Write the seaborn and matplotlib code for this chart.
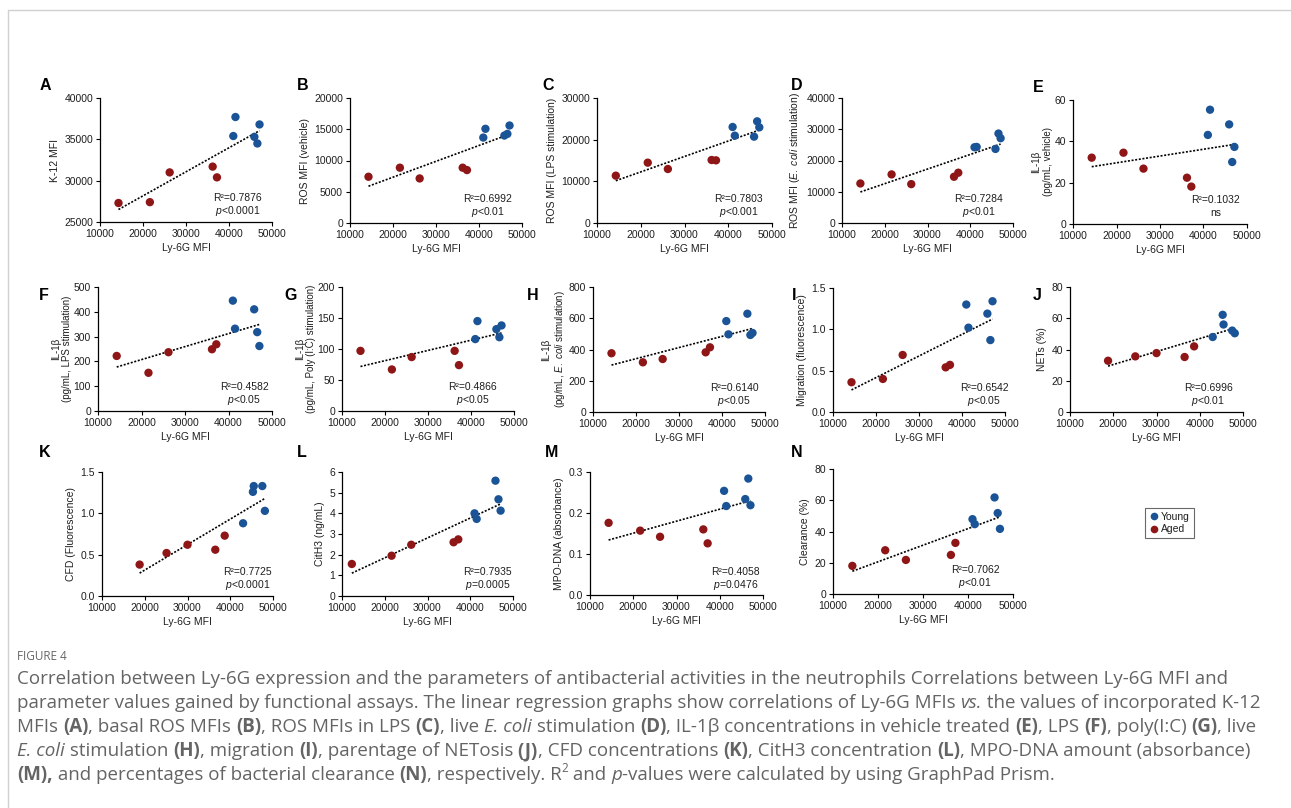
import numpy as np
import pandas as pd
import matplotlib
matplotlib.use("Agg")
import matplotlib.pyplot as plt
import seaborn as sns
from matplotlib.lines import Line2D
from matplotlib.font_manager import FontProperties
from matplotlib.ticker import FormatStrFormatter, FixedLocator

W, H = 1291, 808

# ---------------- data ----------------
ly6g_aged = [14300, 21600, 26200, 36200, 37200]
ly6g_young = [41000, 41500, 45900, 46600, 47100]
ly6g_aged_jk = [18800, 25100, 30000, 36500, 38700]
ly6g_young_jk = [43000, 45300, 45500, 47500, 48100]
ly6g_aged_l = [12300, 21600, 26200, 36100, 37200]

k12_aged = [27300, 27400, 31000, 31700, 30400]
k12_young = [35400, 37700, 35300, 34500, 36800]
ros_veh_aged = [7400, 8850, 7130, 8850, 8470]
ros_veh_young = [13670, 15070, 13990, 14260, 15600]
ros_lps_aged = [11360, 14480, 12960, 15120, 15040]
ros_lps_young = [23040, 20960, 20720, 24400, 22960]
ros_ecoli_aged = [12650, 15550, 12440, 14800, 16090]
ros_ecoli_young = [24240, 24340, 23700, 28630, 27130]
il1b_veh_aged = [32.1, 34.5, 26.8, 22.4, 18.1]
il1b_veh_young = [43.1, 55.3, 48.2, 30.0, 37.3]
il1b_lps_aged = [222, 154, 237, 249, 269]
il1b_lps_young = [445, 332, 410, 318, 262]
il1b_polyic_aged = [97, 67, 87, 97, 74]
il1b_polyic_young = [116, 145, 132, 119, 138]
il1b_ecoli_aged = [376, 318, 339, 382, 414]
il1b_ecoli_young = [582, 497, 629, 493, 506]
migration_aged = [0.36, 0.40, 0.69, 0.54, 0.57]
migration_young = [1.30, 1.02, 1.19, 0.87, 1.34]
nets_aged = [32.8, 35.6, 37.7, 35.2, 42.0]
nets_young = [48.0, 62.2, 56.0, 52.1, 50.4]
cfd_aged = [0.38, 0.52, 0.62, 0.56, 0.73]
cfd_young = [0.88, 1.26, 1.33, 1.33, 1.03]
cith3_aged = [1.55, 1.95, 2.48, 2.60, 2.74]
cith3_young = [4.00, 3.73, 5.58, 4.68, 4.13]
mpodna_aged = [0.176, 0.157, 0.142, 0.160, 0.126]
mpodna_young = [0.254, 0.217, 0.234, 0.284, 0.219]
clearance_aged = [18.0, 28.0, 21.8, 25.0, 32.7]
clearance_young = [47.9, 44.7, 61.8, 51.8, 41.7]

panel_letters = list("ABCDEFGHIJKLMN")
y_labels = [
    "K-12 MFI",
    "ROS MFI (vehicle)",
    "ROS MFI (LPS stimulation)",
    r"ROS MFI ($\mathit{E.\ coli}$ stimulation)",
    "IL-1β\n(pg/mL, vehicle)",
    "IL-1β\n(pg/mL, LPS stimulation)",
    "IL-1β\n(pg/mL, Poly (I:C) stimulation)",
    "IL-1β\n" + r"(pg/mL, $\mathit{E.\ coli}$ stimulation)",
    "Migration (fluorescence)",
    "NETs (%)",
    "CFD (Fluorescence)",
    "CitH3 (ng/mL)",
    "MPO-DNA (absorbance)",
    "Clearance (%)",
]
r2_labels = ["R²=0.7876", "R²=0.6992", "R²=0.7803", "R²=0.7284", "R²=0.1032",
             "R²=0.4582", "R²=0.4866", "R²=0.6140", "R²=0.6542", "R²=0.6996",
             "R²=0.7725", "R²=0.7935", "R²=0.4058", "R²=0.7062"]
p_labels = [r"$\mathit{p}$<0.0001", r"$\mathit{p}$<0.01", r"$\mathit{p}$<0.001", r"$\mathit{p}$<0.01", "ns",
            r"$\mathit{p}$<0.05", r"$\mathit{p}$<0.05", r"$\mathit{p}$<0.05", r"$\mathit{p}$<0.05", r"$\mathit{p}$<0.01",
            r"$\mathit{p}$<0.0001", r"$\mathit{p}$=0.0005", r"$\mathit{p}$=0.0476", r"$\mathit{p}$<0.01"]
y_ticks = [
    [25000, 30000, 35000, 40000],
    [0, 5000, 10000, 15000, 20000],
    [0, 10000, 20000, 30000],
    [0, 10000, 20000, 30000, 40000],
    [0, 20, 40, 60],
    [0, 100, 200, 300, 400, 500],
    [0, 50, 100, 150, 200],
    [0, 200, 400, 600, 800],
    [0.0, 0.5, 1.0, 1.5],
    [0, 20, 40, 60, 80],
    [0.0, 0.5, 1.0, 1.5],
    [0, 1, 2, 3, 4, 5, 6],
    [0.0, 0.1, 0.2, 0.3],
    [0, 20, 40, 60, 80],
]
x_ticks = [10000, 20000, 30000, 40000, 50000]
x_label = "Ly-6G MFI"
groups = ["Young", "Aged"]

series = [
    (ly6g_aged, ly6g_young, k12_aged, k12_young),
    (ly6g_aged, ly6g_young, ros_veh_aged, ros_veh_young),
    (ly6g_aged, ly6g_young, ros_lps_aged, ros_lps_young),
    (ly6g_aged, ly6g_young, ros_ecoli_aged, ros_ecoli_young),
    (ly6g_aged, ly6g_young, il1b_veh_aged, il1b_veh_young),
    (ly6g_aged, ly6g_young, il1b_lps_aged, il1b_lps_young),
    (ly6g_aged, ly6g_young, il1b_polyic_aged, il1b_polyic_young),
    (ly6g_aged, ly6g_young, il1b_ecoli_aged, il1b_ecoli_young),
    (ly6g_aged, ly6g_young, migration_aged, migration_young),
    (ly6g_aged_jk, ly6g_young_jk, nets_aged, nets_young),
    (ly6g_aged_jk, ly6g_young_jk, cfd_aged, cfd_young),
    (ly6g_aged_l, ly6g_young, cith3_aged, cith3_young),
    (ly6g_aged, ly6g_young, mpodna_aged, mpodna_young),
    (ly6g_aged, ly6g_young, clearance_aged, clearance_young),
]

# ---------------- layout / style ----------------
axes_px = [  # left, top, right, bottom (pixels)
    (100, 98, 272, 222), (350, 98, 522, 223), (597, 98, 772, 223), (842, 98, 1013, 223), (1073, 100, 1247, 224),
    (98, 287, 272, 411), (342, 287, 514, 411), (593, 287, 765, 412), (833, 288, 1005, 412), (1070, 287, 1243, 412),
    (102, 472, 273, 596), (342, 472, 513, 596), (590, 472, 763, 595), (833, 469, 1013, 594),
]
letter_px = [(45, 86), (303, 86), (548, 86), (797, 86), (1038, 87),
             (44, 296), (291, 296), (533, 296), (794, 296), (1037, 296),
             (45, 452), (302, 452), (552, 452), (797, 452)]
stat_xfrac = [0.80, 0.80, 0.81, 0.80, 0.82, 0.84, 0.76, 0.82, 0.88, 0.80, 0.85, 0.85, 0.84, 0.79]
yfmt = ['%d'] * 8 + ['%.1f', '%d', '%.1f', '%d', '%.1f', '%d']

palette = {"Young": "#1b5496", "Aged": "#8e1616"}
TXT = "#1e1e1e"

sns.set_theme(style="ticks")
plt.rcParams['font.family'] = ['Liberation Sans', 'DejaVu Sans']
plt.rcParams['mathtext.fontset'] = 'custom'
plt.rcParams['mathtext.rm'] = 'Liberation Sans'
plt.rcParams['mathtext.it'] = 'Liberation Sans:italic'
plt.rcParams['mathtext.bf'] = 'Liberation Sans:bold'

fig = plt.figure(figsize=(W / 100, H / 100), dpi=100, facecolor='white')

# page frame
fig.add_artist(Line2D([8 / W, 1.0], [1 - 10 / H, 1 - 10 / H], transform=fig.transFigure, color='#d0d0d0', lw=1.0))
fig.add_artist(Line2D([8 / W, 8 / W], [0, 1 - 10 / H], transform=fig.transFigure, color='#d0d0d0', lw=1.0))

for i in range(14):
    l, t, r, b = axes_px[i]
    ax = fig.add_axes([l / W, 1 - b / H, (r - l) / W, (b - t) / H])
    xa, xy, ya, yy = series[i]
    df = pd.DataFrame({"Ly6G": list(xa) + list(xy),
                       "value": list(ya) + list(yy),
                       "Group": ["Aged"] * len(xa) + ["Young"] * len(xy)})
    sns.regplot(data=df, x="Ly6G", y="value", scatter=False, ci=None, truncate=True, ax=ax,
                line_kws=dict(color='black', lw=1.2, ls=(0, (1.2, 1.0)), zorder=2))
    sns.scatterplot(data=df, x="Ly6G", y="value", hue="Group", palette=palette, s=36,
                    edgecolor='none', linewidth=0, legend=False, ax=ax, zorder=3)
    yt = y_ticks[i]
    ax.set_xlim(x_ticks[0], x_ticks[-1])
    ax.set_ylim(yt[0], yt[-1])
    ax.xaxis.set_major_locator(FixedLocator(x_ticks))
    ax.yaxis.set_major_locator(FixedLocator(yt))
    ax.yaxis.set_major_formatter(FormatStrFormatter(yfmt[i]))
    ax.xaxis.set_major_formatter(FormatStrFormatter('%d'))
    for s in ['top', 'right']:
        ax.spines[s].set_visible(False)
    for s in ['left', 'bottom']:
        ax.spines[s].set_linewidth(0.9)
        ax.spines[s].set_color('black')
    ax.tick_params(axis='both', direction='out', length=3, width=0.8, pad=2,
                   labelsize=7.5, colors='black', labelcolor=TXT)
    ax.set_xlabel(x_label, fontsize=7.5, color=TXT, labelpad=3)
    two_line = "\n" in y_labels[i]
    ax.set_ylabel(y_labels[i], fontsize=7.0 if two_line else 7.5, color=TXT,
                  labelpad=1 if two_line else 3, linespacing=1.2)
    ax.set_facecolor('none')
    ax.grid(False)
    ax.text(stat_xfrac[i], 0.19, r2_labels[i], transform=ax.transAxes, ha='center', va='center',
            fontsize=7.5, color=TXT)
    ax.text(stat_xfrac[i], 0.085, p_labels[i], transform=ax.transAxes, ha='center', va='center',
            fontsize=7.5, color=TXT)
    lx, ly = letter_px[i]
    fig.text(lx / W, 1 - ly / H, panel_letters[i], fontsize=11.5, fontweight='bold', color='black',
             ha='center', va='center')

# legend
handles = [Line2D([], [], ls='none', marker='o', markersize=5.5, markerfacecolor=palette[g],
                  markeredgecolor='none') for g in groups]
leg = fig.legend(handles, groups, loc='upper left', bbox_to_anchor=(1145 / W, 1 - 508 / H),
                 fontsize=7.5, frameon=True, fancybox=False, borderpad=0.35, handletextpad=0.2,
                 handlelength=1.0, labelspacing=0.25, borderaxespad=0)
leg.get_frame().set_edgecolor('#444444')
leg.get_frame().set_linewidth(0.8)
for tx in leg.get_texts():
    tx.set_color(TXT)

# ---------------- caption ----------------
CAP_FONT = 'Open Sans'
CAP_COLOR = '#646464'
renderer = fig.canvas.get_renderer()


def fprop(size, style):
    return FontProperties(family=CAP_FONT, size=size,
                          weight='bold' if style == 'b' else 'normal',
                          style='italic' if style == 'i' else 'normal')


def seg_w(txt, size, style):
    fp = fprop(size, style)
    w1 = renderer.get_text_width_height_descent('|' + txt + '|', fp, ismath=False)[0]
    w0 = renderer.get_text_width_height_descent('||', fp, ismath=False)[0]
    return w1 - w0


caption_lines = [
    [("Correlation between Ly-6G expression and the parameters of antibacterial activities in the neutrophils Correlations between Ly-6G MFI and", 'n')],
    [("parameter values gained by functional assays. The linear regression graphs show correlations of Ly-6G MFIs ", 'n'),
     ("vs.", 'i'), (" the values of incorporated K-12", 'n')],
    [("MFIs ", 'n'), ("(A)", 'b'), (", basal ROS MFIs ", 'n'), ("(B)", 'b'), (", ROS MFIs in LPS ", 'n'), ("(C)", 'b'),
     (", live ", 'n'), ("E. coli", 'i'), (" stimulation ", 'n'), ("(D)", 'b'),
     (", IL-1β concentrations in vehicle treated ", 'n'), ("(E)", 'b'), (", LPS ", 'n'), ("(F)", 'b'),
     (", poly(I:C) ", 'n'), ("(G)", 'b'), (", live", 'n')],
    [("E. coli", 'i'), (" stimulation ", 'n'), ("(H)", 'b'), (", migration ", 'n'), ("(I)", 'b'),
     (", parentage of NETosis ", 'n'), ("(J)", 'b'), (", CFD concentrations ", 'n'), ("(K)", 'b'),
     (", CitH3 concentration ", 'n'), ("(L)", 'b'), (", MPO-DNA amount (absorbance)", 'n')],
    [("(M),", 'b'), (" and percentages of bacterial clearance ", 'n'), ("(N)", 'b'), (", respectively. R", 'n'),
     ("2", 'sup'), (" and ", 'n'), ("p", 'i'), ("-values were calculated by using GraphPad Prism.", 'n')],
]
line_y = [679, 703, 727, 751, 775]
x0 = 17
base = 10.0
wref = sum(seg_w(t, base * (0.62 if s == 'sup' else 1), 'n' if s == 'sup' else s) for t, s in caption_lines[1])
cap_size = base * (1262 - x0) / wref

fig.text(x0 / W, 1 - 656 / H, "FIGURE 4", fontsize=8.5, color='#666666', family=CAP_FONT,
         ha='left', va='center')

for segs, yy in zip(caption_lines, line_y):
    x = x0
    for txt, st in segs:
        if st == 'sup':
            sz = cap_size * 0.62
            fig.text(x / W, 1 - (yy - cap_size * 0.5) / H, txt, fontproperties=fprop(sz, 'n'),
                     color=CAP_COLOR, ha='left', va='center')
            x += seg_w(txt, sz, 'n')
        else:
            fig.text(x / W, 1 - yy / H, txt, fontproperties=fprop(cap_size, st),
                     color=CAP_COLOR, ha='left', va='center')
            x += seg_w(txt, cap_size, st)

fig.savefig("out.png", dpi=100, facecolor='white')
